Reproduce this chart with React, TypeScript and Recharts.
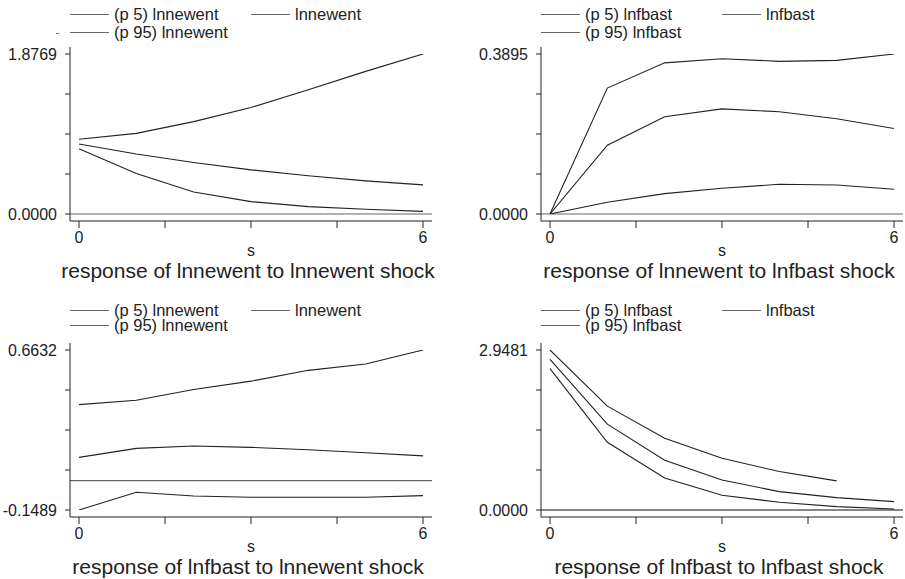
import React from 'react';
import { LineChart, Line, XAxis, YAxis, ReferenceLine, Label } from 'recharts';

// forecast steps
const steps = [0, 1, 2, 3, 4, 5, 6];
const xTicks = [0, 1.5, 3, 4.5, 6];

// response of lnnewent to lnnewent shock
const p5NewNew = [0.766, 0.475, 0.259, 0.145, 0.086, 0.055, 0.031];
const irfNewNew = [0.821, 0.703, 0.605, 0.518, 0.448, 0.389, 0.342];
const p95NewNew = [0.876, 0.946, 1.084, 1.249, 1.457, 1.673, 1.8769];
const yTicksNewNew = [0, 0.4692, 0.9385, 1.4077, 1.8769];

// response of lnnewent to lnfbast shock
const p5NewFb = [0, 0.0285, 0.0496, 0.0626, 0.0724, 0.0707, 0.0602];
const irfNewFb = [0, 0.1675, 0.2366, 0.256, 0.249, 0.232, 0.208];
const p95NewFb = [0, 0.3066, 0.368, 0.378, 0.3716, 0.374, 0.3895];
const yTicksNewFb = [0, 0.0974, 0.1948, 0.2921, 0.3895];

// response of lnfbast to lnnewent shock
const p5FbNew = [-0.1489, -0.0588, -0.0775, -0.0844, -0.0844, -0.0844, -0.0758];
const irfFbNew = [0.118, 0.164, 0.176, 0.169, 0.157, 0.142, 0.126];
const p95FbNew = [0.386, 0.408, 0.463, 0.505, 0.56, 0.592, 0.6632];
const yTicksFbNew = [-0.1489, 0.0541, 0.2571, 0.4602, 0.6632];

// response of lnfbast to lnfbast shock
const p5FbFb = [2.604, 1.249, 0.591, 0.271, 0.142, 0.062, 0.018];
const irfFbFb = [2.776, 1.582, 0.917, 0.554, 0.339, 0.228, 0.154];
const p95FbFb = [2.9481, 1.914, 1.323, 0.954, 0.708, 0.536, null];
const yTicksFbFb = [0, 0.737, 1.4741, 2.2111, 2.9481];

const FONT = '"Liberation Sans", Arial, Helvetica, sans-serif';
const INK = '#222';

const toRows = (p5: (number | null)[], irf: number[], p95: (number | null)[]) =>
  steps.map((s, i) => ({ s, p5: p5[i], irf: irf[i], p95: p95[i] }));

const AxisCaption = (props: any) => {
  const { viewBox, title } = props;
  if (!viewBox) return null;
  const cx = viewBox.x + viewBox.width / 2;
  return (
    <g fontFamily={FONT} fill={INK}>
      <text x={cx} y={viewBox.y + 35} textAnchor="middle" fontSize={16}>s</text>
      <text x={cx - 3} y={viewBox.y + 57} textAnchor="middle" fontSize={21}>{title}</text>
    </g>
  );
};

const LegendItem = ({ label }: { label: string }) => (
  <div style={{ display: 'flex', alignItems: 'center' }}>
    <div style={{ width: 39, borderTop: '1px solid #666' }} />
    <span style={{ marginLeft: 5 }}>{label}</span>
  </div>
);

type PanelProps = {
  left: number;
  top: number;
  varName: string;
  title: string;
  rows: any[];
  yTicks: number[];
  rowGap: number;
  zeroColor: string;
  stray?: boolean;
};

const Panel = ({ left, top, varName, title, rows, yTicks, rowGap, zeroColor, stray }: PanelProps) => {
  const last = yTicks.length - 1;
  return (
    <div style={{ position: 'absolute', left, top, width: 450, height: 290 }}>
      <div style={{ position: 'absolute', left: 70, top: 5, fontSize: 16.5, lineHeight: '18px', color: INK }}>
        <div style={{ display: 'flex' }}>
          <div style={{ width: 181 }}><LegendItem label={`(p 5) ${varName}`} /></div>
          <LegendItem label={varName} />
        </div>
        <div style={{ marginTop: rowGap - 18, position: 'relative' }}>
          {stray && (
            <div style={{ position: 'absolute', left: -14, top: 10, width: 3, borderTop: '1px solid #777' }} />
          )}
          <LegendItem label={`(p 95) ${varName}`} />
        </div>
      </div>
      <LineChart width={450} height={290} data={rows} margin={{ top: 47, right: 18, bottom: 0, left: 0 }}>
        <XAxis
          dataKey="s"
          type="number"
          domain={[0, 6]}
          ticks={xTicks}
          tickFormatter={(v: number) => (v === 0 || v === 6 ? String(v) : '')}
          padding={{ left: 9, right: 9 }}
          height={69}
          tickSize={7}
          tickMargin={4}
          stroke={INK}
          tick={{ fill: INK, fontSize: 16, fontFamily: FONT }}
        >
          <Label content={<AxisCaption title={title} />} />
        </XAxis>
        <YAxis
          type="number"
          domain={[yTicks[0], yTicks[last]]}
          ticks={yTicks}
          tickFormatter={(v: number, i: number) => (i === 0 || i === last ? v.toFixed(4) : '')}
          padding={{ top: 7, bottom: 7 }}
          width={70}
          tickSize={5}
          tickMargin={8}
          stroke={INK}
          tick={{ fill: INK, fontSize: 16, fontFamily: FONT }}
          allowDataOverflow
        />
        <ReferenceLine y={0} stroke={zeroColor} strokeWidth={1.2} />
        <Line dataKey="p5" stroke={INK} strokeWidth={1.1} dot={false} isAnimationActive={false} />
        <Line dataKey="irf" stroke={INK} strokeWidth={1.1} dot={false} isAnimationActive={false} />
        <Line dataKey="p95" stroke={INK} strokeWidth={1.1} dot={false} isAnimationActive={false} />
      </LineChart>
    </div>
  );
};

export default function App() {
  return (
    <div
      style={{
        position: 'fixed',
        left: 0,
        top: 0,
        width: 905,
        height: 579,
        overflow: 'hidden',
        background: '#fff',
        fontFamily: FONT,
      }}
    >
      <Panel left={0} top={0} varName="lnnewent" title="response of lnnewent to lnnewent shock"
        rows={toRows(p5NewNew, irfNewNew, p95NewNew)} yTicks={yTicksNewNew} rowGap={18} zeroColor="#666" stray />
      <Panel left={471} top={0} varName="lnfbast" title="response of lnnewent to lnfbast shock"
        rows={toRows(p5NewFb, irfNewFb, p95NewFb)} yTicks={yTicksNewFb} rowGap={18} zeroColor="#666" />
      <Panel left={0} top={296} varName="lnnewent" title="response of lnfbast to lnnewent shock"
        rows={toRows(p5FbNew, irfFbNew, p95FbNew)} yTicks={yTicksFbNew} rowGap={15} zeroColor="#666" />
      <Panel left={471} top={296} varName="lnfbast" title="response of lnfbast to lnfbast shock"
        rows={toRows(p5FbFb, irfFbFb, p95FbFb)} yTicks={yTicksFbFb} rowGap={15} zeroColor="#111" />
    </div>
  );
}
